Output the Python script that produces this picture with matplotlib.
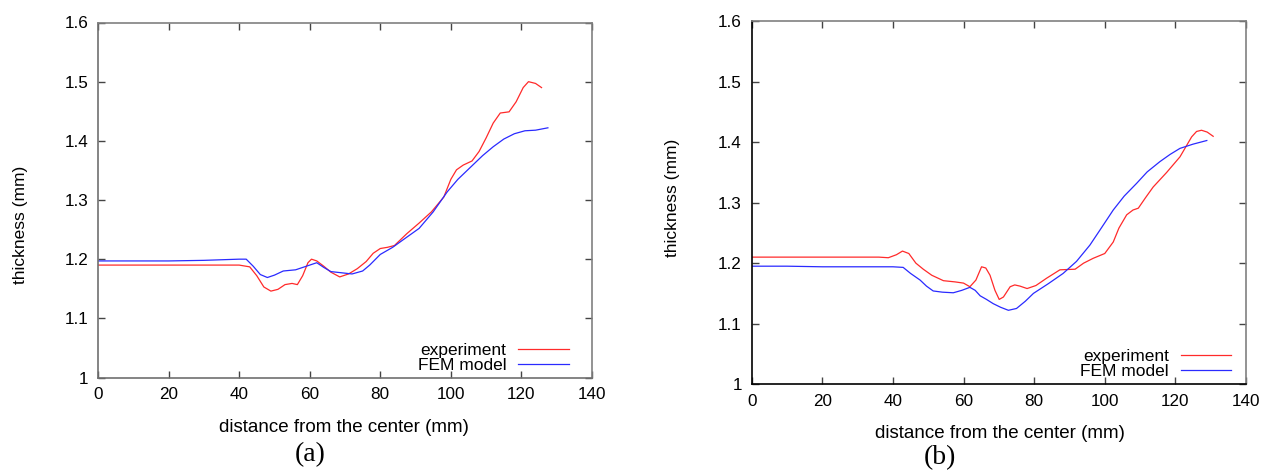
import matplotlib
matplotlib.use("Agg")
import matplotlib.pyplot as plt

plt.rcParams['font.family'] = ['Liberation Sans', 'DejaVu Sans']

# (a) experiment / FEM model
xa_exp = [0, 10, 20, 30, 40, 43, 45, 47, 49, 51, 53, 55, 56.5, 58, 59.5, 60.5, 62, 64, 66, 68.5, 71,
          73.5, 76, 78, 80, 82, 84, 87.5, 91, 94.5, 98, 100, 101.6, 103.5, 106, 108, 110, 112, 114,
          116.5, 118.5, 120.5, 122, 124, 125.7]
ya_exp = [1.19, 1.19, 1.19, 1.19, 1.19, 1.187, 1.172, 1.153, 1.146, 1.149, 1.157, 1.159, 1.157, 1.172,
          1.194, 1.2, 1.197, 1.188, 1.178, 1.17, 1.175, 1.184, 1.196, 1.21, 1.218, 1.22, 1.223, 1.243,
          1.261, 1.28, 1.305, 1.335, 1.351, 1.359, 1.366, 1.382, 1.405, 1.43, 1.447, 1.449, 1.466,
          1.49, 1.5, 1.497, 1.49]
xa_fem = [0, 10, 20, 30, 40, 42, 44, 46, 48, 50, 52.5, 56, 59, 62, 64, 66, 69, 72, 75, 77, 80, 83.5,
          87, 91, 95, 99, 102, 105.5, 109, 112, 115, 118, 121, 124, 127.5]
ya_fem = [1.197, 1.197, 1.197, 1.198, 1.2, 1.2, 1.188, 1.174, 1.169, 1.173, 1.18, 1.182, 1.188, 1.194,
          1.186, 1.179, 1.177, 1.175, 1.18, 1.19, 1.208, 1.22, 1.235, 1.252, 1.28, 1.314, 1.335, 1.355,
          1.375, 1.39, 1.403, 1.412, 1.417, 1.418, 1.422]

# (b) experiment / FEM model
xb_exp = [0, 10, 20, 30, 36, 38.7, 41, 42.7, 44.5, 46.5, 48.6, 51, 54.3, 57.6, 60, 61.8, 63.5, 65.1,
          66.3, 67.5, 68.9, 70.1, 71.3, 73.2, 74.5, 76, 78, 80.5, 83.5, 87.3, 91.6, 94, 96.7, 100,
          102.4, 104, 106.2, 108, 109.5, 111.5, 113.7, 117.5, 121.3, 123, 124.6, 126, 127.4, 129, 130.7]
yb_exp = [1.21, 1.21, 1.21, 1.21, 1.21, 1.209, 1.214, 1.22, 1.216, 1.2, 1.19, 1.18, 1.171, 1.169,
          1.167, 1.161, 1.172, 1.194, 1.192, 1.18, 1.155, 1.14, 1.144, 1.161, 1.164, 1.162, 1.158,
          1.163, 1.175, 1.189, 1.19, 1.2, 1.208, 1.216, 1.235, 1.258, 1.28, 1.288, 1.291, 1.308, 1.326,
          1.35, 1.376, 1.393, 1.409, 1.418, 1.42, 1.417, 1.41]
xb_fem = [0, 10, 20, 30, 40, 42.9, 45, 47.7, 49.5, 51.4, 54, 57.1, 59.5, 61.8, 63.3, 64.7, 66.5, 68.4,
          70.5, 72.7, 75, 77.5, 79.8, 84, 88.2, 92, 95.8, 99, 102.4, 105.5, 109, 112, 115.6, 118.5,
          121.3, 125, 128.9]
yb_fem = [1.195, 1.195, 1.194, 1.194, 1.194, 1.193, 1.183, 1.172, 1.162, 1.154, 1.152, 1.151, 1.155,
          1.16, 1.155, 1.146, 1.14, 1.133, 1.127, 1.122, 1.125, 1.137, 1.15, 1.166, 1.183, 1.203, 1.23,
          1.258, 1.288, 1.311, 1.332, 1.351, 1.368, 1.38, 1.39, 1.397, 1.403]

xticks = [0, 20, 40, 60, 80, 100, 120, 140]
yticks = [1.0, 1.1, 1.2, 1.3, 1.4, 1.5, 1.6]
ytick_labels = ['1', '1.1', '1.2', '1.3', '1.4', '1.5', '1.6']

W, H = 1272, 470
fig = plt.figure(figsize=(12.72, 4.7), dpi=100)


def make_axes(box, xe, ye, xf, yf, spine_main, leg_anchor):
    x0, y0, x1, y1 = box
    ax = fig.add_axes([x0 / W, 1 - y1 / H, (x1 - x0) / W, (y1 - y0) / H])
    ax.plot(xe, ye, color='#ff2a2a', lw=0.9, label='experiment')
    ax.plot(xf, yf, color='#2a2aff', lw=0.9, label='FEM model')
    ax.set_xlim(0, 140)
    ax.set_ylim(1.0, 1.6)
    ax.set_xticks(xticks)
    ax.set_yticks(yticks)
    ax.set_yticklabels(ytick_labels)
    ax.tick_params(direction='in', length=5, width=1, top=True, right=True,
                   labelsize=12.3, pad=7, color='#444444')
    for s in ['left', 'bottom']:
        ax.spines[s].set_color(spine_main)
    for s in ['top', 'right']:
        ax.spines[s].set_color('#808080')
    for s in ax.spines.values():
        s.set_linewidth(1.2)
    ax.legend(loc='lower right', bbox_to_anchor=leg_anchor, frameon=False, markerfirst=False,
              fontsize=12.5, handlelength=2.9, handletextpad=0.7, labelspacing=0,
              borderpad=0, borderaxespad=0)
    return ax


ax1 = make_axes((98, 22.5, 592, 377.5), xa_exp, ya_exp, xa_fem, ya_fem, '#707070', (0.953, 0.013))
ax2 = make_axes((751.7, 21.5, 1246, 384), xb_exp, yb_exp, xb_fem, yb_fem, 'black', (0.97, 0.014))

fig.text(21 / W, 1 - 225 / H, 'thickness (mm)', rotation=90, ha='center', va='center', fontsize=12.5)
fig.text(673 / W, 1 - 198 / H, 'thickness (mm)', rotation=90, ha='center', va='center', fontsize=12.5)
fig.text(344 / W, 1 - 427 / H, 'distance from the center (mm)', ha='center', va='center', fontsize=13.5)
fig.text(1000 / W, 1 - 434 / H, 'distance from the center (mm)', ha='center', va='center', fontsize=13.5)
fig.text(310 / W, 1 - 455 / H, '(a)', ha='center', va='center', fontsize=20, family='Liberation Serif')
fig.text(940 / W, 1 - 458 / H, '(b)', ha='center', va='center', fontsize=20, family='Liberation Serif')

fig.savefig('out.png', dpi=100)
